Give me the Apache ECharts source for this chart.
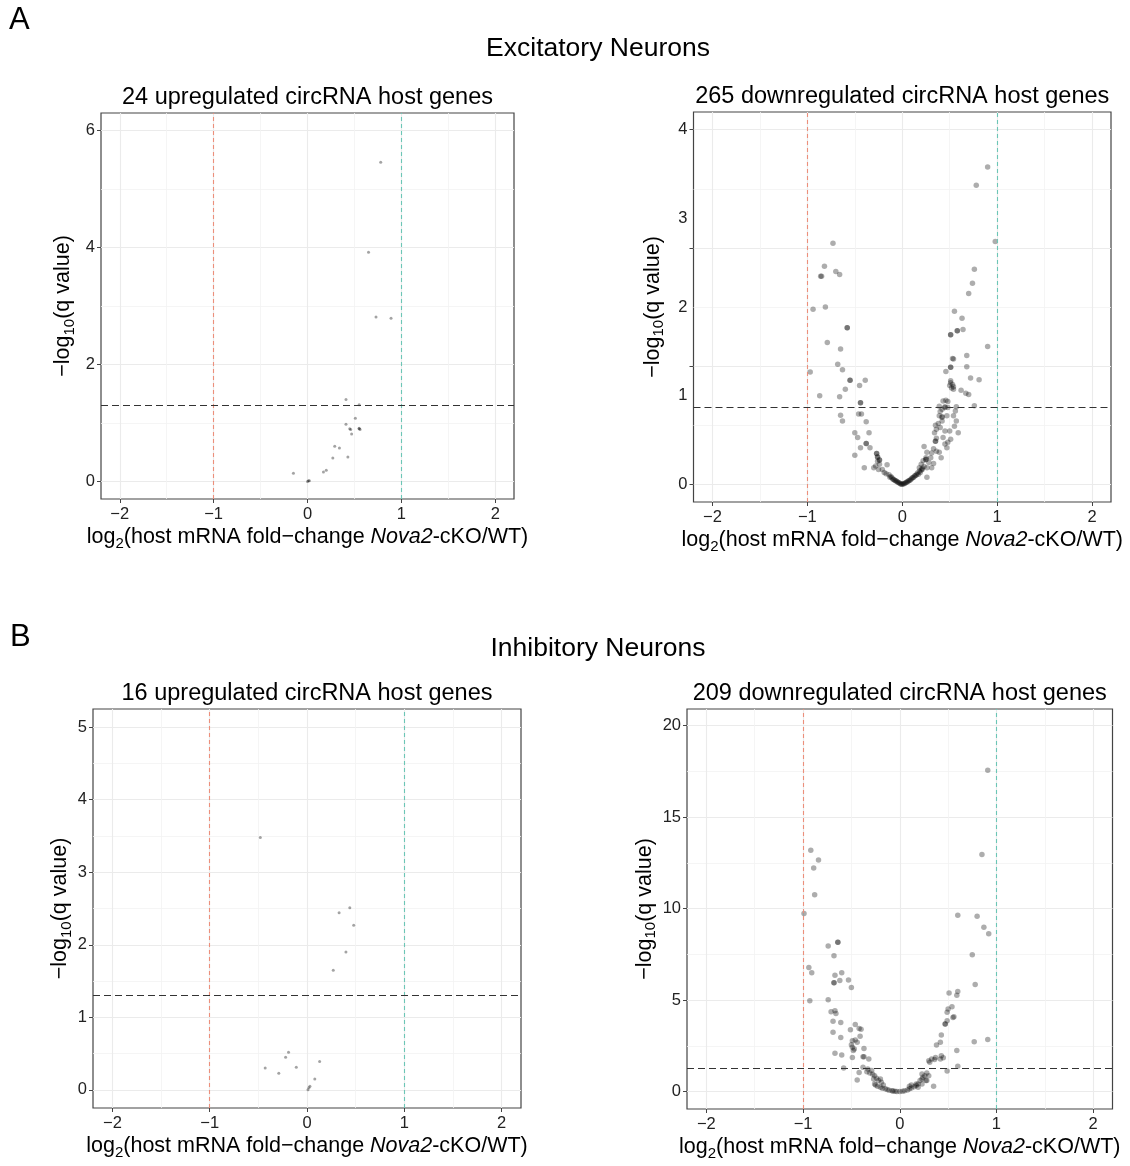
<!DOCTYPE html>
<html>
<head>
<meta charset="utf-8">
<script src="https://cdn.jsdelivr.net/npm/echarts@6/dist/echarts.min.js"></script>
<style>
  html, body { margin: 0; padding: 0; background: #fff; }
  #chart { width: 1130px; height: 1166px; }
</style>
</head>
<body>
<div id="chart"></div>
<script>
// [log2 fold-change, -log10 q] per circRNA host gene
const excUp = [
  [0.78, 5.46], [0.65, 3.92], [0.73, 2.81], [0.89, 2.79], [0.41, 1.40], [0.55, 1.31],
  [0.51, 1.08], [0.41, 0.98], [0.45, 0.90], [0.55, 0.90], [0.56, 0.89], [0.47, 0.81],
  [0.29, 0.60], [0.34, 0.57], [0.27, 0.40], [0.43, 0.42], [-0.15, 0.14], [0.17, 0.16],
  [0.20, 0.19], [0.00, 0.00], [0.01, 0.01], [0.02, 0.01], [0.55, 0.91], [0.46, 0.89]
]
const excDown = [
  [-0.73, 4.08], [-0.82, 3.69], [-0.86, 3.52], [-0.85, 3.52], [-0.70, 3.60], [-0.66, 3.55],
  [-0.94, 2.96], [-0.81, 3.00], [-0.58, 2.65], [-0.58, 2.65], [-0.79, 2.40], [-0.65, 2.29],
  [-0.97, 1.90], [-0.68, 2.03], [-0.63, 1.94], [-0.55, 1.76], [-0.55, 1.76], [-0.39, 1.76],
  [-0.45, 1.67], [-0.60, 1.61], [-0.87, 1.50], [-0.66, 1.48], [-0.44, 1.38], [-0.44, 1.38],
  [-0.46, 1.19], [-0.43, 1.19], [-0.65, 1.17], [-0.63, 1.07], [-0.38, 1.06], [-0.50, 0.87],
  [-0.47, 0.79], [-0.35, 0.87], [-0.38, 0.69], [-0.38, 0.69], [-0.44, 0.62], [-0.34, 0.62],
  [-0.50, 0.49], [-0.40, 0.28], [-0.27, 0.52], [-0.27, 0.52], [-0.26, 0.46], [-0.26, 0.46],
  [-0.24, 0.41], [-0.24, 0.41], [-0.26, 0.39], [-0.24, 0.34], [-0.28, 0.31], [-0.30, 0.28],
  [-0.25, 0.25], [-0.21, 0.25], [-0.16, 0.33], [-0.19, 0.20], [-0.17, 0.18], [-0.14, 0.16],
  [-0.13, 0.12], [-0.12, 0.13], [-0.11, 0.11], [-0.10, 0.09], [-0.09, 0.08], [-0.08, 0.07],
  [-0.07, 0.06], [-0.06, 0.05], [-0.05, 0.04], [-0.04, 0.03], [-0.03, 0.02], [-0.02, 0.01],
  [-0.01, 0.00],
  [0.90, 5.37], [0.78, 5.06], [0.98, 4.11], [0.76, 3.64], [0.74, 3.40], [0.70, 3.23],
  [0.55, 2.93], [0.63, 2.81], [0.51, 2.53], [0.51, 2.53], [0.58, 2.60], [0.58, 2.60],
  [0.64, 2.62], [0.90, 2.33], [0.68, 2.18], [0.68, 1.99], [0.72, 1.80], [0.81, 1.77],
  [0.62, 1.59], [0.67, 1.54], [0.70, 1.52], [0.76, 1.33], [0.46, 1.91], [0.51, 1.98],
  [0.51, 1.98], [0.53, 2.13], [0.54, 2.12], [0.51, 1.75], [0.53, 1.69], [0.54, 1.65],
  [0.52, 1.63], [0.51, 1.72], [0.54, 1.61], [0.50, 1.67], [0.43, 1.41], [0.46, 1.42],
  [0.48, 1.40], [0.48, 1.30], [0.39, 1.32], [0.57, 1.31], [0.45, 1.30], [0.45, 1.31],
  [0.42, 1.27], [0.40, 1.23], [0.42, 1.14], [0.42, 1.14], [0.39, 1.16], [0.47, 1.16],
  [0.54, 1.16], [0.56, 1.24], [0.57, 1.07], [0.55, 0.98], [0.35, 1.00], [0.38, 1.03],
  [0.36, 0.93], [0.34, 0.87], [0.42, 1.07], [0.40, 0.96], [0.45, 0.90], [0.50, 0.90],
  [0.59, 0.87], [0.36, 0.78], [0.35, 0.73], [0.35, 0.73], [0.43, 0.79], [0.51, 0.76],
  [0.48, 0.71], [0.45, 0.68], [0.47, 0.62], [0.33, 0.60], [0.31, 0.53], [0.39, 0.54],
  [0.36, 0.56], [0.30, 0.45], [0.41, 0.45], [0.28, 0.37], [0.25, 0.42], [0.25, 0.42],
  [0.26, 0.54], [0.23, 0.64], [0.25, 0.45], [0.22, 0.40], [0.33, 0.35], [0.31, 0.28],
  [0.26, 0.28], [0.20, 0.34], [0.18, 0.28], [0.26, 0.12], [0.23, 0.30], [0.21, 0.27],
  [0.20, 0.24], [0.19, 0.20], [0.17, 0.17], [0.14, 0.15], [0.12, 0.12], [0.10, 0.10],
  [0.08, 0.07], [0.06, 0.05], [0.04, 0.03], [0.02, 0.01], [0.00, 0.00], [0.13, 0.14],
  [0.11, 0.11], [0.09, 0.08], [0.07, 0.06], [0.15, 0.16], [0.16, 0.19], [0.18, 0.22],
  [0.21, 0.25], [0.05, 0.04], [0.03, 0.02], [0.01, 0.01]
]
const inhUp = [
  [-0.48, 3.48], [0.33, 2.44], [0.44, 2.51], [0.48, 2.27], [0.40, 1.90], [0.27, 1.65],
  [-0.43, 0.30], [-0.29, 0.23], [-0.22, 0.45], [-0.19, 0.52], [-0.11, 0.31], [0.13, 0.39],
  [0.08, 0.15], [0.03, 0.05], [0.01, 0.00], [0.02, 0.03]
]
const inhDown = [
  [-0.92, 13.18], [-0.84, 12.65], [-0.89, 12.22], [-0.88, 10.75], [-0.99, 9.73], [-0.64, 8.16],
  [-0.64, 8.16], [-0.74, 7.96], [-0.68, 7.42], [-0.94, 6.78], [-0.91, 6.49], [-0.67, 6.36],
  [-0.60, 6.49], [-0.68, 5.95], [-0.68, 5.95], [-0.62, 6.07], [-0.53, 6.09], [-0.50, 5.69],
  [-0.93, 4.96], [-0.74, 5.02], [-0.71, 4.36], [-0.67, 4.42], [-0.66, 4.27], [-0.69, 3.84],
  [-0.61, 3.78], [-0.69, 3.24], [-0.61, 2.96], [-0.51, 3.38], [-0.46, 3.67], [-0.42, 3.45],
  [-0.40, 3.40], [-0.41, 3.02], [-0.49, 2.78], [-0.46, 2.82], [-0.44, 2.69], [-0.50, 2.56],
  [-0.49, 2.42], [-0.47, 2.33], [-0.48, 2.24], [-0.67, 2.09], [-0.60, 2.00], [-0.49, 1.87],
  [-0.37, 2.35], [-0.38, 1.91], [-0.37, 1.91], [-0.32, 1.78], [-0.58, 1.29], [-0.38, 1.33],
  [-0.42, 1.05], [-0.44, 0.64], [-0.33, 1.24], [-0.34, 1.09], [-0.31, 1.02], [-0.28, 0.95],
  [-0.29, 1.15], [-0.26, 0.87], [-0.24, 0.73], [-0.27, 0.69], [-0.22, 0.60], [-0.26, 0.42],
  [-0.25, 0.36], [-0.20, 0.69], [-0.19, 0.51], [-0.17, 0.36], [-0.23, 0.29], [-0.20, 0.24],
  [-0.18, 0.18], [-0.15, 0.15], [-0.13, 0.11], [-0.11, 0.07], [-0.08, 0.05], [-0.07, 0.04],
  [-0.05, 0.02], [-0.03, 0.00], [0.00, 0.00],
  [0.91, 17.55], [0.85, 12.95], [0.60, 9.64], [0.80, 9.58], [0.87, 8.98], [0.92, 8.62],
  [0.75, 7.47], [0.78, 5.85], [0.51, 5.38], [0.60, 5.47], [0.59, 5.27], [0.54, 4.64],
  [0.50, 4.51], [0.56, 4.09], [0.77, 2.73], [0.91, 2.84],
  [0.03, 0.02], [0.05, 0.05], [0.08, 0.09], [0.10, 0.15], [0.12, 0.20], [0.15, 0.27],
  [0.17, 0.33], [0.19, 0.42], [0.21, 0.60], [0.23, 0.69], [0.24, 0.78], [0.23, 0.96],
  [0.26, 0.87], [0.28, 0.60], [0.28, 1.02], [0.31, 1.60], [0.30, 1.69], [0.33, 1.78],
  [0.36, 1.75], [0.37, 1.87], [0.42, 1.78], [0.43, 1.96], [0.45, 1.85], [0.38, 2.55],
  [0.42, 2.69], [0.43, 3.09], [0.47, 3.69], [0.47, 3.69], [0.49, 3.87], [0.49, 4.33],
  [0.55, 4.05], [0.59, 2.24], [0.60, 1.38], [0.49, 1.13], [0.35, 0.29], [0.30, 0.87],
  [0.27, 0.60], [0.23, 0.42], [0.19, 0.24], [0.17, 0.42], [0.12, 0.36], [0.10, 0.29]
]

const panelTitles = [
  '24 upregulated circRNA host genes', '265 downregulated circRNA host genes',
  '16 upregulated circRNA host genes', '209 downregulated circRNA host genes'
]
const xTicks = [-2, -1, 0, 1, 2]
const xMinor = [-1.5, -0.5, 0.5, 1.5]
const yTicks = [[0, 2, 4, 6], [0, 2, 4, 6], [0, 1, 2, 3, 4, 5], [0, 5, 10, 15, 20]]
const yMinor = [[1, 3, 5], [1, 3, 5], [0.5, 1.5, 2.5, 3.5, 4.5], [2.5, 7.5, 12.5, 17.5]]
// the top-right panel carries labels that sit off its tick marks
const yLabelAt = [[0, 2, 4, 6], [0, 1.5, 3, 4.5, 6], [0, 1, 2, 3, 4, 5], [0, 5, 10, 15, 20]]
const yLabelText = [['0', '2', '4', '6'], ['0', '1', '2', '3', '4'], ['0', '1', '2', '3', '4', '5'], ['0', '5', '10', '15', '20']]
const foldCut = [-1, 1]
const qCut = 1.30103 // -log10(0.05)

const FONT = '"Liberation Sans", Arial, Helvetica, sans-serif'

const layout = [
  { left: 101, top: 113, width: 413, height: 386, yMin: -0.3, yMax: 6.3, dot: 3, yGap: 24 },
  { left: 693.5, top: 112, width: 417.5, height: 390, yMin: -0.3, yMax: 6.3, dot: 5.5, yGap: 27 },
  { left: 93, top: 709, width: 428, height: 399, yMin: -0.25, yMax: 5.25, dot: 3, yGap: 16 },
  { left: 687, top: 709, width: 425.5, height: 400, yMin: -0.95, yMax: 20.9, dot: 5.5, yGap: 25 },
]
const panelData = [excUp, excDown, inhUp, inhDown]

const minus = (v) => (v < 0 ? '\u2212' + Math.abs(v) : String(v))

const richBase = {
  a: { fontSize: 21.5, lineHeight: 27, fontFamily: FONT, color: '#000' },
  s: { fontSize: 15, lineHeight: 15, verticalAlign: 'bottom', fontFamily: FONT, color: '#000' },
  i: { fontSize: 21.5, lineHeight: 27, fontFamily: FONT, fontStyle: 'italic', color: '#000' },
}

const grids = []
const xAxes = []
const yAxes = []
const series = []
const titles = [
  { text: 'A', left: 9, top: 5, padding: 0, textStyle: { fontSize: 31, fontWeight: 'normal', fontFamily: FONT, color: '#000' } },
  { text: 'B', left: 10, top: 622, padding: 0, textStyle: { fontSize: 31, fontWeight: 'normal', fontFamily: FONT, color: '#000' } },
  { text: 'Excitatory Neurons', left: 598, top: 35, padding: 0, textAlign: 'center', textStyle: { fontSize: 26.5, fontWeight: 'normal', fontFamily: FONT, color: '#000' } },
  { text: 'Inhibitory Neurons', left: 598, top: 635, padding: 0, textAlign: 'center', textStyle: { fontSize: 26.5, fontWeight: 'normal', fontFamily: FONT, color: '#000' } },
]

// one reference line per series, so its colour is set at markLine level
function refLine(i, item, color, dash, width) {
  return {
    type: 'scatter', xAxisIndex: 2 * i, yAxisIndex: 3 * i, data: [], silent: true, z: 3,
    markLine: {
      silent: true, symbol: 'none', animation: false, label: { show: false },
      lineStyle: { color: color, type: dash, width: width, opacity: 1 },
      emphasis: { disabled: true },
      data: [item],
    },
  }
}

layout.forEach((p, i) => {
  grids.push({ left: p.left, top: p.top, width: p.width, height: p.height, show: true, borderColor: '#444', borderWidth: 1.2, backgroundColor: '#fff' })
  titles.push({
    text: panelTitles[i], left: p.left + p.width / 2, top: p.top - 27, padding: 0, textAlign: 'center',
    textStyle: { fontSize: 23.5, fontWeight: 'normal', fontFamily: FONT, color: '#000' },
  })

  // x: labels + ticks + major grid
  xAxes.push({
    gridIndex: i, type: 'value', min: -2.2, max: 2.2, position: 'bottom',
    axisLine: { show: false, onZero: false },
    axisTick: { show: true, length: 4, lineStyle: { color: '#444' }, customValues: xTicks },
    axisLabel: { customValues: xTicks, formatter: minus, fontSize: 16.5, color: '#222', fontFamily: FONT, margin: 7 },
    splitLine: { show: true, lineStyle: { color: '#EBEBEB', width: 1.1 } },
    name: '{a|log}{s|2}{a|(host mRNA fold\u2212change }{i|Nova2}{a|-cKO/WT)}',
    nameLocation: 'middle', nameGap: 25,
    nameTextStyle: { rich: richBase },
  })
  // x: minor grid
  xAxes.push({
    gridIndex: i, type: 'value', min: -2.2, max: 2.2, position: 'bottom',
    axisLine: { show: false, onZero: false },
    axisTick: { show: false, customValues: xMinor },
    axisLabel: { show: false },
    splitLine: { show: true, lineStyle: { color: '#F2F2F2', width: 0.8 } },
  })

  // y: labels
  yAxes.push({
    gridIndex: i, type: 'value', min: p.yMin, max: p.yMax, position: 'left',
    axisLine: { show: false, onZero: false },
    axisTick: { show: false },
    axisLabel: {
      customValues: yLabelAt[i], fontSize: 16.5, color: '#222', fontFamily: FONT, margin: 6,
      formatter: (v) => {
        const k = yLabelAt[i].findIndex((t) => Math.abs(t - v) < 1e-6)
        return k >= 0 ? yLabelText[i][k] : ''
      },
    },
    splitLine: { show: false },
    name: '{a|\u2212log}{s|10}{a|(q value)}',
    nameLocation: 'middle', nameGap: p.yGap, nameRotate: 90,
    nameTextStyle: { rich: richBase },
  })
  // y: ticks + major grid
  yAxes.push({
    gridIndex: i, type: 'value', min: p.yMin, max: p.yMax, position: 'left',
    axisLine: { show: false, onZero: false },
    axisTick: { show: true, length: 4, lineStyle: { color: '#444' }, customValues: yTicks[i] },
    axisLabel: { show: false },
    splitLine: { show: true, lineStyle: { color: '#EBEBEB', width: 1.1 } },
  })
  // y: minor grid
  yAxes.push({
    gridIndex: i, type: 'value', min: p.yMin, max: p.yMax, position: 'left',
    axisLine: { show: false, onZero: false },
    axisTick: { show: false, customValues: yMinor[i] },
    axisLabel: { show: false },
    splitLine: { show: true, lineStyle: { color: '#F2F2F2', width: 0.8 } },
  })

  series.push(refLine(i, { xAxis: foldCut[0] }, '#EC8F7B', [4, 3], 1.1))
  series.push(refLine(i, { xAxis: foldCut[1] }, '#6CC6B6', [4, 3], 1.1))
  series.push({
    type: 'scatter', xAxisIndex: 2 * i, yAxisIndex: 3 * i, data: panelData[i],
    symbolSize: p.dot, silent: true, z: 4,
    itemStyle: { color: p.dot > 3 ? 'rgba(0,0,0,0.4)' : 'rgba(0,0,0,0.45)' },
  })
  series.push(refLine(i, { yAxis: qCut }, '#333', [7, 4], 1.2))
})

const chart = echarts.init(document.getElementById('chart'), null, { renderer: 'canvas' })
chart.setOption({
  backgroundColor: '#fff',
  animation: false,
  title: titles,
  grid: grids,
  xAxis: xAxes,
  yAxis: yAxes,
  series: series,
})
</script>
</body>
</html>
